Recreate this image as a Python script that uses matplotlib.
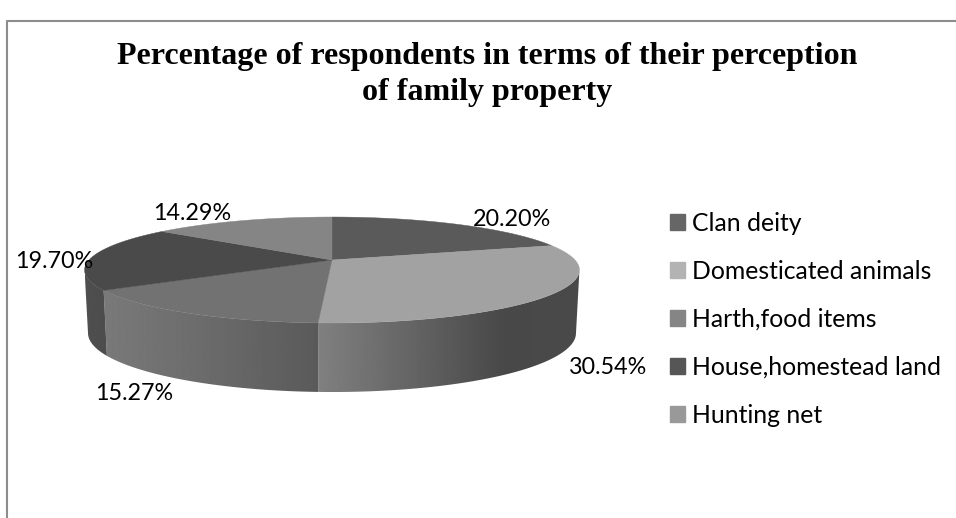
import numpy as np
import matplotlib
matplotlib.use("Agg")
import matplotlib.pyplot as plt
from matplotlib.patches import Patch, Polygon

# values
categories = ["Clan deity", "Domesticated animals", "Harth,food items",
              "House,homestead land", "Hunting net"]
values = [20.20, 30.54, 15.27, 19.70, 14.29]

# colours
top_colors = ["#5a5a5a", "#a2a2a2", "#727272", "#4a4a4a", "#858585"]
legend_colors = ["#666666", "#b3b3b3", "#858585", "#565656", "#999999"]
# wall shade (x pixel, grey 0-255) for each slice, none for the back ones
wall_shades = [None,
               ([318, 420, 505, 580], [128, 98, 72, 74]),
               ([100, 200, 318], [122, 108, 90]),
               ([80, 110], [80, 76]),
               None]

label_pos = [(512, 220), (608, 368), (134, 394), (54, 261), (192, 213)]

# perspective of the disc, in pixels
K = 0.1887
# angles where the side of the disc turns away from the viewer
T_RIGHT = np.pi - np.arccos(K)
T_LEFT = np.pi + np.arccos(K)

def project(t, cx, cy, a, b):
    # t is clockwise from 12 o'clock
    X = np.sin(t)
    Y = np.cos(t)
    w = 1 + K * Y
    return cx + a * X / w, cy - b * Y / w

def top(t):
    return project(t, 332, 260, 243, 51.1)

def bottom(t):
    return project(t, 332, 322, 239.6, 56.8)

fig = plt.figure(figsize=(9.56, 5.18), dpi=100)
ax = fig.add_axes([0, 0, 1, 1])

# frame
ax.plot([7, 7, 956], [518, 21, 21], color="#8c8c8c", lw=1.5)

ax.text(487, 42, "Percentage of respondents in terms of their perception\nof family property",
        family="Liberation Serif", weight="bold", fontsize=23, ha="center", va="top",
        linespacing=1.3)

edges = np.radians(np.cumsum([0] + values) / 100 * 360)

# side wall, a horizontal gradient clipped to each slice
for i in range(len(values)):
    if wall_shades[i] is None:
        continue
    ts = np.linspace(max(edges[i], T_RIGHT), min(edges[i + 1], T_LEFT), 120)
    xt, yt = top(ts)
    xb, yb = bottom(ts)
    poly = Polygon(np.c_[np.r_[xt, xb[::-1]], np.r_[yt, yb[::-1]]], closed=True,
                   transform=ax.transData, facecolor="none", edgecolor="none")
    ax.add_patch(poly)
    x_left, x_right = min(xt.min(), xb.min()), max(xt.max(), xb.max())
    px = np.linspace(x_left, x_right, 256)
    shade = np.interp(px, wall_shades[i][0], wall_shades[i][1]).reshape(1, -1)
    im = ax.imshow(shade, cmap="gray", vmin=0, vmax=255, aspect="auto", zorder=2,
                   extent=[x_left, x_right, yb.max(), yt.min()])
    im.set_clip_path(poly)

# top face
for i in range(len(values)):
    ts = np.linspace(edges[i], edges[i + 1], 120)
    xs, ys = top(ts)
    ax.fill(np.r_[332, xs], np.r_[260, ys], color=top_colors[i], lw=0.3, zorder=3)

for v, (lx, ly) in zip(values, label_pos):
    ax.text(lx, ly, f"{v:.2f}%", family="Lato", fontsize=16.8, ha="center", va="center", zorder=5)

handles = [Patch(color=c, label=n) for c, n in zip(legend_colors, categories)]
ax.legend(handles=handles, loc="upper left", bbox_to_anchor=(670, 212), bbox_transform=ax.transData,
          frameon=False, prop={"family": "Lato", "size": 17.8}, handlelength=0.6, handleheight=0.6,
          labelspacing=1.01, handletextpad=0.3, borderpad=0, borderaxespad=0)

ax.set_xlim(0, 956)
ax.set_ylim(518, 0)
ax.axis("off")

fig.savefig("out.png", dpi=100)
